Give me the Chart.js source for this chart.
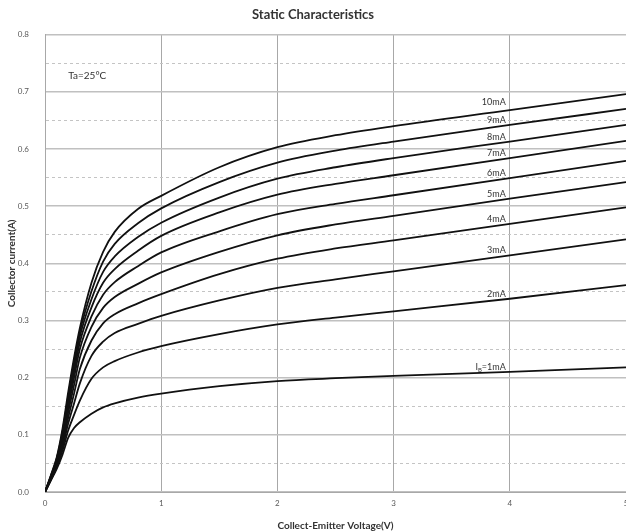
<!DOCTYPE html>
<html><head><meta charset="utf-8">
<script src="https://cdn.jsdelivr.net/npm/chart.js@4.4.0/dist/chart.umd.min.js"></script>
<style>html,body{margin:0;padding:0;background:#fff}</style>
</head><body>
<canvas id="c" width="626" height="532"></canvas>
<script>
// ---- data ----
const voltage = [0, 0.05, 0.1, 0.15, 0.2, 0.25, 0.3, 0.4, 0.5, 0.6, 0.8, 1.0, 1.5, 2, 2.5, 3, 4, 5];
const ib1  = [0, 0.020, 0.040, 0.065, 0.095, 0.112, 0.122, 0.137, 0.148, 0.155, 0.165, 0.172, 0.185, 0.194, 0.199, 0.203, 0.210, 0.218];
const ib2  = [0, 0.021, 0.043, 0.072, 0.108, 0.135, 0.160, 0.198, 0.218, 0.229, 0.244, 0.255, 0.276, 0.293, 0.305, 0.316, 0.338, 0.362];
const ib3  = [0, 0.022, 0.046, 0.078, 0.120, 0.155, 0.190, 0.238, 0.263, 0.278, 0.294, 0.308, 0.335, 0.357, 0.372, 0.386, 0.414, 0.442];
const ib4  = [0, 0.023, 0.048, 0.083, 0.130, 0.172, 0.215, 0.265, 0.295, 0.311, 0.330, 0.346, 0.381, 0.408, 0.426, 0.440, 0.469, 0.498];
const ib5  = [0, 0.024, 0.050, 0.088, 0.140, 0.187, 0.235, 0.289, 0.322, 0.341, 0.364, 0.384, 0.420, 0.449, 0.468, 0.483, 0.513, 0.542];
const ib6  = [0, 0.025, 0.052, 0.092, 0.148, 0.200, 0.250, 0.307, 0.345, 0.367, 0.395, 0.419, 0.456, 0.486, 0.504, 0.519, 0.549, 0.579];
const ib7  = [0, 0.026, 0.054, 0.096, 0.155, 0.210, 0.262, 0.323, 0.366, 0.390, 0.422, 0.448, 0.489, 0.520, 0.539, 0.554, 0.584, 0.614];
const ib8  = [0, 0.027, 0.056, 0.100, 0.162, 0.220, 0.272, 0.337, 0.385, 0.412, 0.446, 0.471, 0.515, 0.548, 0.568, 0.584, 0.613, 0.642];
const ib9  = [0, 0.028, 0.058, 0.105, 0.168, 0.228, 0.280, 0.351, 0.403, 0.434, 0.470, 0.496, 0.542, 0.576, 0.597, 0.613, 0.642, 0.670];
const ib10 = [0, 0.029, 0.060, 0.110, 0.175, 0.235, 0.287, 0.366, 0.420, 0.455, 0.495, 0.518, 0.568, 0.603, 0.624, 0.640, 0.668, 0.696];
const seriesValues = [ib1, ib2, ib3, ib4, ib5, ib6, ib7, ib8, ib9, ib10];
const seriesLabels = ['1mA', '2mA', '3mA', '4mA', '5mA', '6mA', '7mA', '8mA', '9mA', '10mA'];
const labelAtVoltage = 4;
const xTickLabels = ['0', '1', '2', '3', '4', '5'];
const tempNote = 'Ta=25°C';
const tempNoteAt = [0.2, 0.728];

const FONT = 'Lato, "Open Sans", "DejaVu Sans", sans-serif';

const datasets = seriesValues.map((vals, i) => ({
  label: seriesLabels[i],
  data: voltage.map((v, k) => ({x: v, y: vals[k]})),
  borderColor: '#111',
  borderWidth: 1.8,
  pointRadius: 0,
  fill: false,
  cubicInterpolationMode: 'monotone'
}));

const labelPlugin = {
  id: 'curveLabels',
  afterDatasetsDraw(chart) {
    const ctx = chart.ctx;
    const idx = voltage.indexOf(labelAtVoltage);
    ctx.save();
    ctx.fillStyle = '#333';
    ctx.textBaseline = 'alphabetic';
    chart.data.datasets.forEach((ds, i) => {
      const pt = chart.getDatasetMeta(i).data[idx];
      const xr = pt.x - 4;
      const yb = pt.y - 2;
      if (i === 0) {
        ctx.font = '9px ' + FONT;
        const w1 = ctx.measureText('I').width;
        const rest = '=' + seriesLabels[0];
        const w3 = ctx.measureText(rest).width;
        ctx.font = '6px ' + FONT;
        const w2 = ctx.measureText('B').width;
        let x0 = xr - (w1 + w2 + w3);
        ctx.textAlign = 'left';
        ctx.font = '9px ' + FONT;
        ctx.fillText('I', x0, yb);
        ctx.font = '6px ' + FONT;
        ctx.fillText('B', x0 + w1, yb + 2);
        ctx.font = '9px ' + FONT;
        ctx.fillText(rest, x0 + w1 + w2, yb);
      } else {
        ctx.font = '9px ' + FONT;
        ctx.textAlign = 'right';
        ctx.fillText(seriesLabels[i], xr, yb - (i === 9 ? 3 : 0));
      }
    });
    const xs = chart.scales.x, ys = chart.scales.y;
    ctx.font = '10px ' + FONT;
    ctx.textAlign = 'left';
    ctx.textBaseline = 'middle';
    ctx.fillText(tempNote, xs.getPixelForValue(tempNoteAt[0]), ys.getPixelForValue(tempNoteAt[1]));
    ctx.restore();
  }
};

new Chart(document.getElementById('c'), {
  type: 'line',
  data: {datasets},
  plugins: [labelPlugin],
  options: {
    responsive: false,
    animation: false,
    plugins: {
      legend: {display: false},
      tooltip: {enabled: false},
      title: {
        display: true,
        text: 'Static Characteristics',
        color: '#333',
        font: {family: FONT, size: 13, weight: 'bold'},
        padding: {top: 7, bottom: 12}
      }
    },
    scales: {
      x: {
        type: 'linear',
        min: 0, max: 5,
        ticks: {
          stepSize: 1, autoSkip: false, padding: 7,
          color: '#595959', font: {family: FONT, size: 8},
          callback: (v) => xTickLabels[Math.round(v)] ?? ''
        },
        grid: {color: '#a8a8a8', lineWidth: 1, drawTicks: false},
        border: {color: '#a8a8a8', width: 1},
        title: {
          display: true, text: 'Collect-Emitter Voltage(V)',
          color: '#333', font: {family: FONT, size: 10, weight: 'bold'},
          padding: {top: 6, bottom: 0}
        },
        afterFit: (s) => { s.height = 40; s.paddingLeft = 0; s.paddingRight = 0; }
      },
      y: {
        min: 0, max: 0.8,
        ticks: {
          stepSize: 0.05, autoSkip: false, padding: 16,
          color: '#595959', font: {family: FONT, size: 8},
          callback: (v, i) => (i % 2 === 0 ? Number(v).toFixed(1) : '')
        },
        grid: {
          color: (c) => (c.index % 2 ? '#c4c4c4' : '#c0c0c0'),
          lineWidth: (c) => (c.index % 2 ? 1 : 1.4),
          drawTicks: false
        },
        border: {color: '#a8a8a8', width: 1, dash: (c) => (c.index % 2 ? [3, 3] : [])},
        title: {
          display: true, text: 'Collector current(A)',
          color: '#333', font: {family: FONT, size: 10, weight: 'bold'},
          padding: {top: 6, bottom: 0}
        },
        afterFit: (s) => { s.width = 45; }
      }
    }
  }
});
</script>
</body></html>
